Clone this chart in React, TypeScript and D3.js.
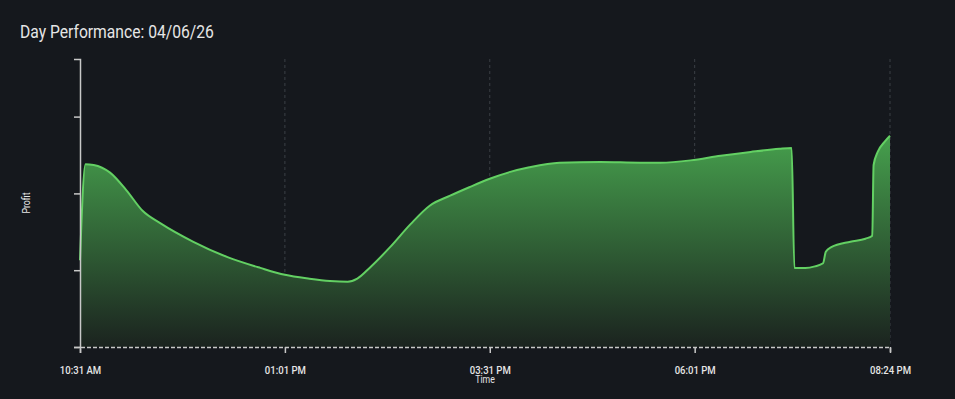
import { useEffect, useRef } from 'react';
import * as d3 from 'd3';

const WIDTH = 955;
const HEIGHT = 399;
const MARGIN = { top: 59, right: 65, bottom: 52, left: 80 };
const SQUEEZE = 0.87; // reference font is a narrow face

const TITLE = 'Day Performance: 04/06/26';

// time of day for each sample
const times = [
  '10:31', '10:35', '10:41', '10:53', '11:05', '11:17', '11:30', '11:54', '12:19', '12:43',
  '13:01', '13:19', '13:34', '13:47', '13:54', '14:03', '14:18', '14:33', '14:47', '15:02',
  '15:16', '15:31', '15:46', '16:00', '16:22', '16:52', '17:21', '17:36', '17:58', '18:20',
  '18:42', '19:03', '19:12', '19:14', '19:22', '19:29', '19:35', '19:37', '19:41', '19:55',
  '20:06', '20:11', '20:12', '20:15', '20:20', '20:24',
];

// profit (arbitrary units, labels hidden in the original)
const profit = [
  113, 238, 237, 227, 204, 177, 161, 137, 117, 103,
  94, 89, 86, 85, 89, 103, 130, 160, 184, 197,
  208, 219, 228, 234, 240, 241, 240, 240, 243, 249,
  254, 258, 259, 103, 103, 105, 109, 124, 130, 137,
  141, 145, 237, 254, 267, 275,
];

const xTicks = ['10:31', '13:01', '15:31', '18:01', '20:24'];
const yTicks = [0, 100, 200, 300];
const yDomain = [0, 375];

const toDate = (t: string) => {
  const [h, m] = t.split(':').map(Number);
  return new Date(2026, 3, 6, h, m);
};

export default function App() {
  const svgRef = useRef<SVGSVGElement>(null);

  useEffect(() => {
    document.body.style.margin = '0';
    document.body.style.background = '#15181d';
    if (!svgRef.current) return;

    const svg = d3.select(svgRef.current);
    svg.selectAll('*').remove();

    const data = times.map((t, i) => ({ date: toDate(t), value: profit[i] }));
    const boundsW = WIDTH - MARGIN.left - MARGIN.right;
    const boundsH = HEIGHT - MARGIN.top - MARGIN.bottom;

    const x = d3
      .scaleTime()
      .domain([toDate(times[0]), toDate(times[times.length - 1])])
      .range([0, boundsW]);
    const y = d3.scaleLinear().domain(yDomain).range([boundsH, 0]);

    svg.append('rect').attr('width', WIDTH).attr('height', HEIGHT).attr('fill', '#15181d');

    // title
    svg
      .append('text')
      .attr('transform', `translate(20,38) scale(${SQUEEZE},1)`)
      .style('font-family', 'Roboto, sans-serif')
      .style('font-size', '18px')
      .style('fill', '#e6e6e6')
      .text(TITLE);

    const defs = svg.append('defs');
    const grad = defs
      .append('linearGradient')
      .attr('id', 'areaFill')
      .attr('gradientUnits', 'userSpaceOnUse')
      .attr('x1', 0)
      .attr('x2', 0)
      .attr('y1', y(275))
      .attr('y2', boundsH);
    grad.append('stop').attr('offset', '0%').attr('stop-color', '#46a04d');
    grad.append('stop').attr('offset', '100%').attr('stop-color', '#1b231f');

    const g = svg.append('g').attr('transform', `translate(${MARGIN.left},${MARGIN.top})`);

    // vertical grid
    g.selectAll('.grid')
      .data(xTicks.slice(1))
      .join('line')
      .attr('class', 'grid')
      .attr('x1', d => x(toDate(d)))
      .attr('x2', d => x(toDate(d)))
      .attr('y1', 0)
      .attr('y2', boundsH)
      .attr('stroke', '#3b3f45')
      .attr('stroke-width', 1)
      .attr('stroke-dasharray', '3,3');

    const area = d3
      .area<{ date: Date; value: number }>()
      .x(d => x(d.date))
      .y0(boundsH)
      .y1(d => y(d.value))
      .curve(d3.curveMonotoneX);
    const line = d3
      .line<{ date: Date; value: number }>()
      .x(d => x(d.date))
      .y(d => y(d.value))
      .curve(d3.curveMonotoneX);

    g.append('path').datum(data).attr('d', area).attr('fill', 'url(#areaFill)');
    g.append('path')
      .datum(data)
      .attr('d', line)
      .attr('fill', 'none')
      .attr('stroke', '#63d063')
      .attr('stroke-width', 2);

    // Y axis
    const yAxis = g
      .append('g')
      .call(
        d3
          .axisLeft(y)
          .tickValues(yTicks)
          .tickFormat(() => '')
          .tickSize(6)
          .tickSizeOuter(6),
      );
    yAxis.select('.domain').attr('stroke', '#c8c8c8').attr('stroke-width', 1.5);
    yAxis.selectAll('.tick line').attr('stroke', '#c8c8c8').attr('stroke-width', 1.5);

    // X axis
    const xAxis = g
      .append('g')
      .attr('transform', `translate(0,${boundsH})`)
      .call(
        d3
          .axisBottom(x)
          .tickValues(xTicks.map(toDate))
          .tickFormat(d => d3.timeFormat('%I:%M %p')(d as Date))
          .tickSize(6)
          .tickSizeOuter(6),
      );
    xAxis
      .select('.domain')
      .attr('stroke', '#c8c8c8')
      .attr('stroke-width', 1.5)
      .attr('stroke-dasharray', '4,2');
    xAxis.selectAll('.tick line').attr('stroke', '#c8c8c8').attr('stroke-width', 1.5);
    xAxis
      .selectAll('text')
      .attr('y', null)
      .attr('dy', null)
      .attr('transform', `translate(0,27) scale(${SQUEEZE},1)`)
      .style('font-family', 'Roboto, sans-serif')
      .style('font-size', '11px')
      .style('font-weight', '500')
      .style('fill', '#e6e6e6');

    g.append('text')
      .attr('transform', `translate(${boundsW / 2},${boundsH + 36}) scale(${SQUEEZE},1)`)
      .attr('text-anchor', 'middle')
      .style('font-family', 'Roboto, sans-serif')
      .style('font-size', '10px')
      .style('fill', '#e6e6e6')
      .text('Time');

    g.append('text')
      .attr('transform', `translate(${-50},${boundsH / 2}) rotate(-90) scale(${SQUEEZE},1)`)
      .attr('text-anchor', 'middle')
      .style('font-family', 'Roboto, sans-serif')
      .style('font-size', '10px')
      .style('fill', '#e6e6e6')
      .text('Profit');
  }, []);

  return <svg ref={svgRef} width={WIDTH} height={HEIGHT} style={{ display: 'block' }} />;
}
